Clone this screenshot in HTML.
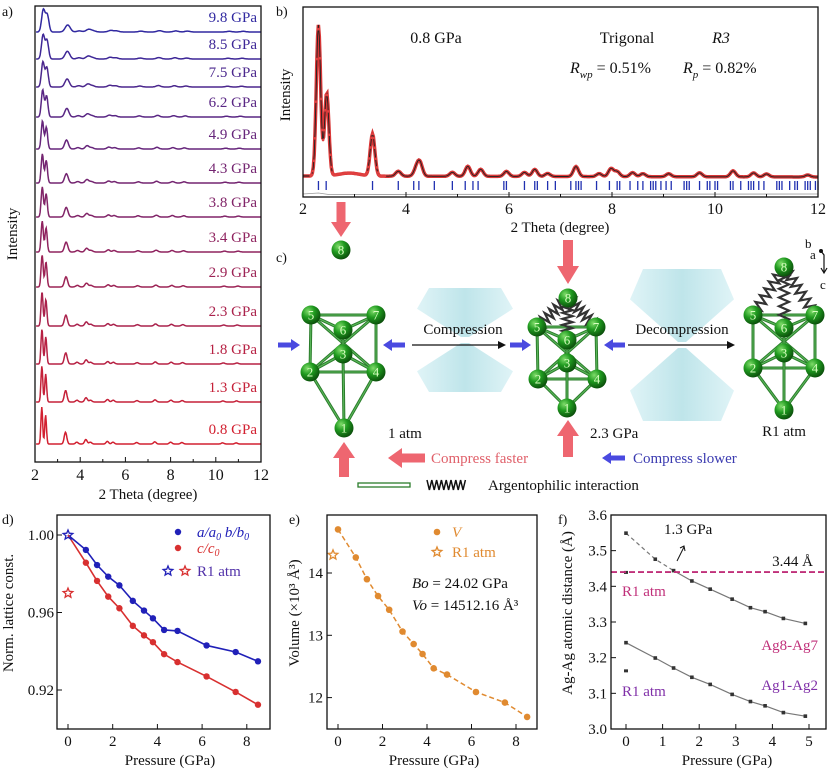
<!DOCTYPE html>
<html><head><meta charset="utf-8">
<style>
html,body{margin:0;padding:0;background:#fff;}
svg{display:block;font-family:"Liberation Serif",serif;}
</style></head>
<body>
<svg id="fig" width="830" height="772" viewBox="0 0 830 772" xmlns="http://www.w3.org/2000/svg">
<defs>
<radialGradient id="atomGrad" cx="0.35" cy="0.3" r="0.75">
<stop offset="0" stop-color="#7fdc6a"/><stop offset="0.45" stop-color="#1f9a1f"/><stop offset="1" stop-color="#0a4a0a"/>
</radialGradient>
<linearGradient id="anvilGrad" x1="0" y1="0" x2="1" y2="0">
<stop offset="0" stop-color="#d5f0f4"/><stop offset="0.5" stop-color="#a9dce3"/><stop offset="1" stop-color="#d5f0f4"/>
</linearGradient>
</defs>
</svg>
<script>
// ---------- DATA ----------
// panel a
const aPressures = ["0.8","1.3","1.8","2.3","2.9","3.4","3.8","4.3","4.9","6.2","7.5","8.5","9.8"];
const aPressureVals = [0.8,1.3,1.8,2.3,2.9,3.4,3.8,4.3,4.9,6.2,7.5,8.5,9.8];
const aPeakScale = [37,36,35,34,32,31,30,29,28,27,25,24,22];
const aPeakPos = [2.30,2.47,3.35,3.85,4.25,4.45,5.20,5.45,6.50,7.30,8.00,8.50,10.30,10.90];
const aPeakAmp = [1.0,0.78,0.32,0.05,0.12,0.05,0.07,0.05,0.04,0.06,0.05,0.04,0.03,0.03];
const aXTicks = [2,4,6,8,10,12];
// panel b
const bPeakPos = [2.30,2.46,2.9,3.35,3.85,4.2,4.27,4.9,5.2,5.45,5.95,6.3,6.5,6.75,7.3,7.75,7.98,8.1,8.4,8.6,9.1,9.7,10.35,10.75,11.0,11.8];
const bPeakAmp = [151,83,3,42,5,7,13,4,10,7,5,4,7,3,10,3,8,5,4,3,3,4,6,4,3,2];
const bReflections = [2.3,2.45,3.35,3.85,4.15,4.25,4.55,4.9,5.15,5.3,5.4,5.9,5.95,6.3,6.5,6.55,6.75,6.9,7.2,7.3,7.35,7.4,7.7,7.95,8.1,8.15,8.35,8.5,8.6,8.75,8.8,8.85,8.95,9.05,9.15,9.4,9.45,9.5,9.7,9.85,9.9,10.0,10.05,10.3,10.35,10.5,10.65,10.7,10.75,10.85,10.95,11.2,11.25,11.3,11.45,11.55,11.6,11.75,11.8,11.85,11.95,12.0];
const bXTicks = [2,4,6,8,10,12];
// panel d
const dPressure = [0,0.8,1.3,1.8,2.3,2.9,3.4,3.8,4.3,4.9,6.2,7.5,8.5];
const dA = [1.000,0.9923,0.9845,0.9785,0.974,0.966,0.961,0.957,0.951,0.9505,0.943,0.9396,0.9348];
const dC = [1.000,0.9857,0.9763,0.9682,0.9622,0.9531,0.9482,0.9447,0.9385,0.9344,0.927,0.919,0.9124];
const dR1A = 1.000, dR1C = 0.970;
const dYTicks = [0.92,0.96,1.00];
const dYLabels = ["0.92","0.96","1.00"];
const dXTicks = [0,2,4,6,8];
// panel e
const ePressure = [0,0.8,1.3,1.8,2.3,2.9,3.4,3.8,4.3,4.9,6.2,7.5,8.5];
const eVolume = [14.70,14.25,13.90,13.63,13.41,13.06,12.86,12.70,12.47,12.37,12.09,11.92,11.69];
const eR1 = 14.29;
const eYTicks = [12,13,14];
const eXTicks = [0,2,4,6,8];
// panel f
const fPressure = [0,0.8,1.3,1.8,2.3,2.9,3.4,3.8,4.3,4.9];
const fAg87 = [3.549,3.476,3.444,3.415,3.392,3.364,3.340,3.329,3.310,3.296];
const fAg12 = [3.242,3.199,3.171,3.145,3.125,3.097,3.077,3.065,3.046,3.036];
const fR1Ag87 = 3.439, fR1Ag12 = 3.163;
const fThreshold = 3.44;
const fYTicks = [3.0,3.1,3.2,3.3,3.4,3.5,3.6];
const fYLabels = ["3.0","3.1","3.2","3.3","3.4","3.5","3.6"];
const fXTicks = [0,1,2,3,4,5];

// ---------- HELPERS ----------
const NS='http://www.w3.org/2000/svg';
const svg=document.getElementById('fig');
function mk(tag,attrs,parent){const e=document.createElementNS(NS,tag);for(const k in attrs)e.setAttribute(k,attrs[k]);(parent||svg).appendChild(e);return e;}
function txt(x,y,s,attrs,parent){const e=mk('text',Object.assign({x:x,y:y,'font-size':15,fill:'#111'},attrs||{}),parent);e.textContent=s;return e;}
function grp(name){const g=mk('g',{});return g;}
function mixColor(t){const r=Math.round(210+(48-210)*t),g=Math.round(32+(40-32)*t),b=Math.round(48+(160-48)*t);return `rgb(${r},${g},${b})`;}

// ---------- PANEL A ----------
(function(){
const g=grp('panel-a');
const x0=35,x1=261,y0=6,y1=462;
const xa=v=>x0+(v-2)*(x1-x0)/10;
const stackY=[444,402,364,326,287,252,217,183,149,117,87,59,32];
let l=txt(2,16,'a)',{'font-size':14},g);
aPressures.forEach((p,i)=>{
  const P=aPressureVals[i];const shift=1+0.0032*(P-0.8);const sig=0.035+0.004*P;
  let d='';
  for(let k=0;k<=400;k++){const t=2.05+k*(9.95/400);let s=0;
    aPeakPos.forEach((pp,j)=>{const c=pp*shift;const w=j<2?sig:sig*1.5;s+=aPeakAmp[j]*Math.exp(-Math.pow((t-c)/w,2)/2);});
    d+=(k?'L':'M')+xa(t).toFixed(1)+','+(stackY[i]-aPeakScale[i]*s).toFixed(1);}
  const col=mixColor(i/12);
  const path=mk('path',{d:d,fill:'none',stroke:col,'stroke-width':1.5},g);
  
  
  const lab=txt(257,stackY[i]-10,p+' GPa',{'text-anchor':'end',fill:col,'font-size':15},g);
  
  
});
const box=mk('rect',{x:x0,y:y0,width:x1-x0,height:y1-y0,fill:'none',stroke:'#111','stroke-width':1.3},g);

for(let v=2;v<=12;v++){mk('line',{x1:xa(v),x2:xa(v),y1:y1,y2:y1-(v%2?3:5),stroke:'#111'},g);}
aXTicks.forEach(v=>{const t=txt(xa(v),480,String(v),{'text-anchor':'middle','font-size':16},g);});
let xt=txt(148,499,'2 Theta (degree)',{'text-anchor':'middle','font-size':15},g);
let yt=txt(0,0,'Intensity',{'text-anchor':'middle','font-size':15,transform:'translate(17,234) rotate(-90)'},g);
})();

// ---------- PANEL B ----------
(function(){
const g=grp('panel-b');
const x0=303,x1=818,y0=7,y1=197;
const xb=v=>x0+(v-2)*(x1-x0)/10;
const base=v=>176+0.1*(v-2);
let l=txt(276,16,'b)',{'font-size':14},g);
function prof(t){let s=0;bPeakPos.forEach((c,j)=>{const w=j===2?0.2:(j<2?0.042:(j===3?0.045:0.05));s+=bPeakAmp[j]*Math.exp(-Math.pow((t-c)/w,2)/2);});return base(t)-s;}
let d='';for(let k=0;k<=600;k++){const t=2+k*10/600;d+=(k?'L':'M')+xb(t).toFixed(1)+','+prof(t).toFixed(1);}
let obs=mk('path',{d:d,fill:'none',stroke:'#d42020','stroke-width':3.5,'stroke-opacity':0.9},g);
let fit=mk('path',{d:d,fill:'none',stroke:'#222','stroke-width':0.9},g);
for(let t=2.15;t<=3.6;t+=0.02){const c=mk('circle',{cx:xb(t),cy:prof(t),r:1.3,fill:'#e04040'},g);}
bReflections.forEach(v=>{const ln=mk('line',{x1:xb(v),x2:xb(v),y1:181,y2:190,stroke:'#2030b0','stroke-width':1.3},g);});
let diff=mk('path',{d:`M${x0},194 L${xb(2.3)},193 L${xb(2.5)},194.5 L${x1},194`,fill:'none',stroke:'#999','stroke-width':0.8},g);
const box=mk('rect',{x:x0,y:y0,width:x1-x0,height:y1-y0,fill:'none',stroke:'#111','stroke-width':1.3},g);
for(let v=2;v<=12;v++){mk('line',{x1:xb(v),x2:xb(v),y1:y1,y2:y1-(v%2?3:5),stroke:'#111'},g);}
bXTicks.forEach(v=>{const t=txt(xb(v),214,String(v),{'text-anchor':'middle','font-size':16},g);});
let xt=txt(560,232,'2 Theta (degree)',{'text-anchor':'middle','font-size':15},g);
let yt=txt(0,0,'Intensity',{'text-anchor':'middle','font-size':15,transform:'translate(290,95) rotate(-90)'},g);
let t1=txt(436,43,'0.8 GPa',{'text-anchor':'middle','font-size':16},g);
let t2=txt(627,43,'Trigonal',{'text-anchor':'middle','font-size':16},g);
let t3=txt(721,43,'R3',{'text-anchor':'middle','font-size':16,'font-style':'italic'},g);
let t4=txt(570,73,'',{'font-size':16},g);t4.innerHTML='<tspan font-style="italic">R</tspan><tspan font-size="11" font-style="italic" dy="5">wp</tspan><tspan dy="-5"> = 0.51%</tspan>';
let t5=txt(683,73,'',{'font-size':16},g);t5.innerHTML='<tspan font-style="italic">R</tspan><tspan font-size="11" font-style="italic" dy="5">p</tspan><tspan dy="-5"> = 0.82%</tspan>';
})();

// ---------- PANEL C (illustration) ----------
(function(){
const g=grp('panel-c');
let l=txt(276,262,'c)',{'font-size':14},g);
function anvil(cx,cy,h,w,name){const a=grp(name);g.appendChild(a);
  mk('polygon',{points:`${cx-w*0.75},${cy-h} ${cx+w*0.75},${cy-h} ${cx+w},${cy-h*0.6} ${cx+4},${cy-3} ${cx-4},${cy-3} ${cx-w},${cy-h*0.6}`,fill:'url(#anvilGrad)',opacity:0.75},a);
  mk('polygon',{points:`${cx-w*0.75},${cy+h} ${cx+w*0.75},${cy+h} ${cx+w},${cy+h*0.6} ${cx+4},${cy+3} ${cx-4},${cy+3} ${cx-w},${cy+h*0.6}`,fill:'url(#anvilGrad)',opacity:0.75},a);}
anvil(465,340,52,48,'diamond-anvil-left');anvil(682,345,76,52,'diamond-anvil-right');
function arrow(x1,y1,x2,y2,col,w,hw,hl,name){const dx=x2-x1,dy=y2-y1,L=Math.hypot(dx,dy),ux=dx/L,uy=dy/L,px=-uy,py=ux;
  const bx=x2-ux*hl,by=y2-uy*hl;
  const pts=[[x1+px*w/2,y1+py*w/2],[bx+px*w/2,by+py*w/2],[bx+px*hw/2,by+py*hw/2],[x2,y2],[bx-px*hw/2,by-py*hw/2],[bx-px*w/2,by-py*w/2],[x1-px*w/2,y1-py*w/2]];
  const p=mk('polygon',{points:pts.map(q=>q.join(',')).join(' '),fill:col},g);}
const pink='#ee6670',blue='#4a4ae0';
arrow(341,202,341,237,pink,9,20,15,'pink-arrow-down');
arrow(568,240,568,284,pink,10,22,18,'pink-arrow-down');
arrow(344,477,344,442,pink,10,22,16,'pink-arrow-up');
arrow(568,457,568,420,pink,10,22,16,'pink-arrow-up');
arrow(278,345,300,345,blue,5,12,9,'blue-arrow-right');
arrow(405,345,383,345,blue,5,12,9,'blue-arrow-left');
arrow(510,345,531,345,blue,5,12,9,'blue-arrow-right');
arrow(625,345,604,345,blue,5,12,9,'blue-arrow-left');
arrow(425,458,388,458,pink,9,20,14,'compress-faster-arrow');
arrow(625,458,602,458,blue,5,12,9,'compress-slower-arrow');
arrow(412,345,506,345,'#111',1.3,8,8,'compression-arrow');
arrow(628,345,735,345,'#111',1.3,8,8,'decompression-arrow');
let c1=txt(463,334,'Compression',{'text-anchor':'middle','font-size':15},g);
let c2=txt(682,334,'Decompression',{'text-anchor':'middle','font-size':15},g);
const edges=[[5,7],[7,4],[4,2],[2,5],[5,4],[7,2],[5,6],[6,7],[2,3],[3,4],[6,3],[2,1],[4,1],[3,1]];
function spring(p,q){const dx=q[0]-p[0],dy=q[1]-p[1],L=Math.hypot(dx,dy),ux=dx/L,uy=dy/L,px=-uy,py=ux;let d=`M${p[0]},${p[1]}`;const n=14;
  for(let k=1;k<n;k++){const f=k/n,s=(k%2?1:-1)*5;d+=`L${p[0]+dx*f+px*s},${p[1]+dy*f+py*s}`;}d+=`L${q[0]},${q[1]}`;
  const e=mk('path',{d:d,fill:'none',stroke:'#333','stroke-width':2.2},g);}
function cluster(A,springs,name){edges.forEach(([a,b])=>{const e=mk('line',{x1:A[a][0],y1:A[a][1],x2:A[b][0],y2:A[b][1],stroke:'#2b7d2b','stroke-width':3},g);
    mk('line',{x1:A[a][0],y1:A[a][1],x2:A[b][0],y2:A[b][1],stroke:'#5cb85c','stroke-width':1},g);});
  if(springs){[5,6,7].forEach(k=>spring(A[8],A[k]));}
  Object.keys(A).forEach(k=>{const c=mk('circle',{cx:A[k][0],cy:A[k][1],r:9.5,fill:'url(#atomGrad)'},g);
    const t=txt(A[k][0],A[k][1]+4.5,k,{'text-anchor':'middle','font-size':13,fill:'#d8ffc0'},g);});}
cluster({5:[311,315],7:[376,315],6:[343,330],3:[343,354],2:[310,372],4:[376,372],1:[344,428],8:[341,250]},false,'cluster-1atm');
cluster({8:[568,298],5:[537,327],7:[596,327],6:[567,340],3:[567,363],2:[538,379],4:[597,379],1:[567,408]},true,'cluster-2gpa');
cluster({8:[784,267],5:[753,315],7:[815,315],6:[784,328],3:[784,353],2:[753,368],4:[815,368],1:[784,410]},true,'cluster-r1atm');
let s1=txt(388,438,'1 atm',{'font-size':15},g);
let s2=txt(590,438,'2.3 GPa',{'font-size':15},g);
let s3=txt(784,436,'R1 atm',{'font-size':15,'text-anchor':'middle'},g);
let f1=txt(431,463,'Compress faster',{'font-size':15,fill:'#e0606a'},g);
let f2=txt(633,463,'Compress slower',{'font-size':15,fill:'#3a3ab0'},g);
let lg=mk('rect',{x:358,y:483,width:52,height:4,fill:'none',stroke:'#2b7d2b','stroke-width':1.3},g);
let zz='M427,480';for(let k=1;k<=16;k++){zz+=`L${427+k*2.4},${k%2?490:480}`;}
let zp=mk('path',{d:zz,fill:'none',stroke:'#111','stroke-width':1.5},g);
let lt=txt(488,490,'Argentophilic interaction',{'font-size':15},g);
let ax=txt(805,248,'b',{'font-size':13},g);
let ay=txt(810,259,'a',{'font-size':13},g);
let az=txt(820,289,'c',{'font-size':13},g);
mk('circle',{cx:821,cy:251,r:2,fill:'#111'},g);mk('path',{d:'M821,251 L824,255 L824,272 M821,268 L824,273 L827,268',fill:'none',stroke:'#111','stroke-width':1.2},g);
})();

// ---------- PANEL D ----------
(function(){
const g=grp('panel-d');
const x0=57,x1=270,y0=515,y1=729;
const xd=v=>68+v*22.35;const yd=v=>535+(1-v)/0.04*77.5;
let l=txt(2,524,'d)',{'font-size':14},g);
function series(vals,col,name){const pts=dPressure.map((p,i)=>xd(p)+','+yd(vals[i])).join(' ');
  const pl=mk('polyline',{points:pts,fill:'none',stroke:col,'stroke-width':1.6},g);
  dPressure.forEach((p,i)=>{if(i===0)return;const c=mk('circle',{cx:xd(p),cy:yd(vals[i]),r:3.2,fill:col},g);});}
series(dA,'#2020b8','a-ratio');series(dC,'#d83030','c-ratio');
function star(cx,cy,r,col,name){let pts=[];for(let k=0;k<10;k++){const a=-Math.PI/2+k*Math.PI/5,rr=k%2?r*0.45:r;pts.push((cx+rr*Math.cos(a)).toFixed(1)+','+(cy+rr*Math.sin(a)).toFixed(1));}
  const s=mk('polygon',{points:pts.join(' '),fill:'none',stroke:col,'stroke-width':1.3},g);return s;}
star(xd(0),yd(dR1A),5,'#2020b8','r1-a-star');star(xd(0),yd(dR1C),5,'#d83030','r1-c-star');
const box=mk('rect',{x:x0,y:y0,width:x1-x0,height:y1-y0,fill:'none',stroke:'#111','stroke-width':1.3},g);
dYTicks.forEach((v,i)=>{mk('line',{x1:x0,x2:x0+5,y1:yd(v),y2:yd(v),stroke:'#111'},g);const t=txt(x0-3,yd(v)+5,dYLabels[i],{'text-anchor':'end','font-size':15},g);});
dXTicks.forEach(v=>{mk('line',{x1:xd(v),x2:xd(v),y1:y1,y2:y1-5,stroke:'#111'},g);const t=txt(xd(v),746,String(v),{'text-anchor':'middle','font-size':15},g);});
let xt=txt(170,765,'Pressure (GPa)',{'text-anchor':'middle','font-size':15},g);
let yt=txt(0,0,'Norm. lattice const.',{'text-anchor':'middle','font-size':15,transform:'translate(13,613) rotate(-90)'},g);
let c=mk('circle',{cx:178,cy:532,r:3.2,fill:'#2020b8'},g);
let t=txt(197,537,'',{'font-size':15,fill:'#2020b8','font-style':'italic'},g);t.innerHTML='a/a<tspan font-size="10" dy="3">0</tspan><tspan dy="-3"> b/b</tspan><tspan font-size="10" dy="3">0</tspan>';
c=mk('circle',{cx:178,cy:548,r:3.2,fill:'#d83030'},g);
t=txt(197,553,'',{'font-size':15,fill:'#d83030','font-style':'italic'},g);t.innerHTML='c/c<tspan font-size="10" dy="3">0</tspan>';
star(168,571,5,'#2020b8','legend-star-blue');star(185,571,5,'#d83030','legend-star-red');
t=txt(197,576,'R1 atm',{'font-size':15,fill:'#5030a8'},g);
})();

// ---------- PANEL E ----------
(function(){
const g=grp('panel-e');
const x0=327,x1=537,y0=515,y1=729;const col='#e08a30';
const xe=v=>338+v*22.25;const ye=v=>573+(14-v)*62.3;
let l=txt(289,524,'e)',{'font-size':14},g);
const pl=mk('polyline',{points:ePressure.map((p,i)=>xe(p)+','+ye(eVolume[i])).join(' '),fill:'none',stroke:col,'stroke-width':1.5,'stroke-dasharray':'5,3'},g);
ePressure.forEach((p,i)=>{const c=mk('circle',{cx:xe(p),cy:ye(eVolume[i]),r:3.3,fill:col},g);});
function star(cx,cy,r,name){let pts=[];for(let k=0;k<10;k++){const a=-Math.PI/2+k*Math.PI/5,rr=k%2?r*0.45:r;pts.push((cx+rr*Math.cos(a)).toFixed(1)+','+(cy+rr*Math.sin(a)).toFixed(1));}
  const s=mk('polygon',{points:pts.join(' '),fill:'none',stroke:col,'stroke-width':1.3},g);}
star(xe(0)-5,ye(eR1),5,'r1-volume-star');
const box=mk('rect',{x:x0,y:y0,width:x1-x0,height:y1-y0,fill:'none',stroke:'#111','stroke-width':1.3},g);
eYTicks.forEach(v=>{mk('line',{x1:x0,x2:x0+5,y1:ye(v),y2:ye(v),stroke:'#111'},g);const t=txt(x0-4,ye(v)+5,String(v),{'text-anchor':'end','font-size':15},g);});
eXTicks.forEach(v=>{mk('line',{x1:xe(v),x2:xe(v),y1:y1,y2:y1-5,stroke:'#111'},g);const t=txt(xe(v),746,String(v),{'text-anchor':'middle','font-size':15},g);});
let xt=txt(434,765,'Pressure (GPa)',{'text-anchor':'middle','font-size':15},g);
let yt=txt(0,0,'Volume (×10³ Å³)',{'text-anchor':'middle','font-size':15,transform:'translate(299,613) rotate(-90)'},g);
let c=mk('circle',{cx:437,cy:532,r:3.3,fill:col},g);
let t=txt(452,537,'V',{'font-size':15,fill:col,'font-style':'italic'},g);
star(437,552,5,'legend-r1-star');
t=txt(452,557,'R1 atm',{'font-size':15,fill:col},g);
t=txt(412,588,'',{'font-size':15},g);t.innerHTML='<tspan font-style="italic">B</tspan><tspan font-style="italic">o</tspan> = 24.02 GPa';
t=txt(412,610,'',{'font-size':15},g);t.innerHTML='<tspan font-style="italic">V</tspan><tspan font-style="italic">o</tspan> = 14512.16 Å³';
})();

// ---------- PANEL F ----------
(function(){
const g=grp('panel-f');
const x0=611,x1=826,y0=515,y1=729;
const xf=v=>626+v*36.6;const yf=v=>729-(v-3.0)/0.1*35.67;
let l=txt(558,524,'f)',{'font-size':14},g);
function series(vals,name,dashFirst){
  const pts=fPressure.map((p,i)=>[xf(p),yf(vals[i])]);
  if(dashFirst){const a=mk('polyline',{points:pts.slice(0,3).map(q=>q.join(',')).join(' '),fill:'none',stroke:'#777','stroke-width':1.2,'stroke-dasharray':'4,3'},g);
    const b=mk('polyline',{points:pts.slice(2).map(q=>q.join(',')).join(' '),fill:'none',stroke:'#777','stroke-width':1.2},g);}
  else{const b=mk('polyline',{points:pts.map(q=>q.join(',')).join(' '),fill:'none',stroke:'#777','stroke-width':1.2},g);}
  pts.forEach(q=>{const r=mk('rect',{x:q[0]-1.8,y:q[1]-1.8,width:3.6,height:3.6,fill:'#333'},g);});}
series(fAg87,'ag8-ag7',true);series(fAg12,'ag1-ag2',false);
let r1=mk('rect',{x:xf(0)-2,y:yf(fR1Ag87)-1.5,width:4,height:3,fill:'#333'},g);
let r2=mk('rect',{x:xf(0)-2,y:yf(fR1Ag12)-1.5,width:4,height:3,fill:'#333'},g);
let th=mk('line',{x1:x0,x2:x1,y1:yf(fThreshold),y2:yf(fThreshold),stroke:'#c0307a','stroke-width':1.8,'stroke-dasharray':'6,3'},g);
const box=mk('rect',{x:x0,y:y0,width:x1-x0,height:y1-y0,fill:'none',stroke:'#111','stroke-width':1.3},g);
fYTicks.forEach((v,i)=>{mk('line',{x1:x0,x2:x0+5,y1:yf(v),y2:yf(v),stroke:'#111'},g);const t=txt(x0-4,yf(v)+5,fYLabels[i],{'text-anchor':'end','font-size':15},g);});
fXTicks.forEach(v=>{mk('line',{x1:xf(v),x2:xf(v),y1:y1,y2:y1-5,stroke:'#111'},g);const t=txt(xf(v),746,String(v),{'text-anchor':'middle','font-size':15},g);});
let xt=txt(727,765,'Pressure (GPa)',{'text-anchor':'middle','font-size':15},g);
let yt=txt(0,0,'Ag-Ag atomic distance (Å)',{'text-anchor':'middle','font-size':15,transform:'translate(572,613) rotate(-90)'},g);
let a=mk('path',{d:'M677,561 L684,547 M680,548 L684,546 L685,551',fill:'none',stroke:'#111','stroke-width':1},g);
let t=txt(664,534,'1.3 GPa',{'font-size':15},g);
t=txt(813,566,'3.44 Å',{'font-size':15,'text-anchor':'end'},g);
t=txt(622,596,'R1 atm',{'font-size':15,fill:'#c0307a'},g);
t=txt(818,650,'Ag8-Ag7',{'font-size':15,fill:'#c0307a','text-anchor':'end'},g);
t=txt(622,696,'R1 atm',{'font-size':15,fill:'#8030a8'},g);
t=txt(818,690,'Ag1-Ag2',{'font-size':15,fill:'#8030a8','text-anchor':'end'},g);
})();
</script>
</body></html>
